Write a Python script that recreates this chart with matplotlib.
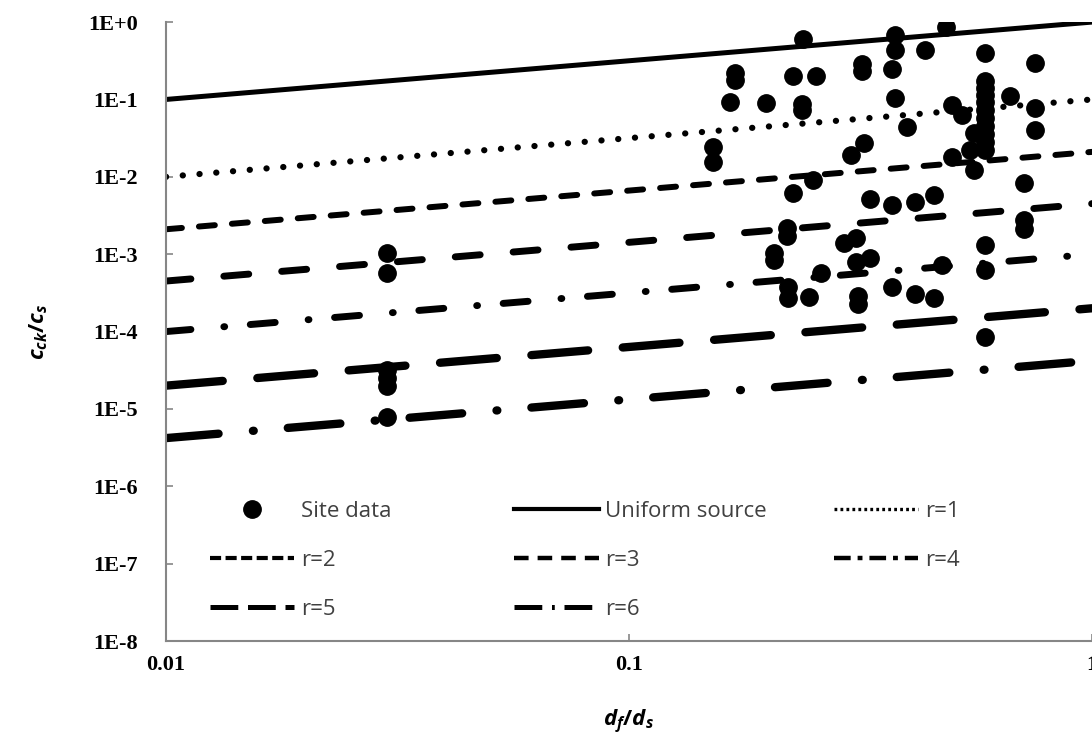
import matplotlib.pyplot as plt
from matplotlib.lines import Line2D
from matplotlib.ticker import NullLocator

plt.rcParams['lines.scale_dashes'] = False
plt.rcParams['mathtext.fontset'] = 'custom'
plt.rcParams['mathtext.it'] = 'Open Sans:italic:bold'
plt.rcParams['mathtext.rm'] = 'Open Sans:bold'
plt.rcParams['mathtext.default'] = 'it'

# site data (df/ds, cck/cs)
site_x = [0.030, 0.030, 0.030, 0.030, 0.030, 0.030,
          0.152, 0.152, 0.169, 0.169, 0.165, 0.198,
          0.226, 0.253, 0.236, 0.236, 0.238, 0.319, 0.319,
          0.302, 0.321, 0.250, 0.226, 0.331, 0.370,
          0.219, 0.219, 0.206, 0.206, 0.292, 0.310, 0.310, 0.331,
          0.260, 0.221, 0.221, 0.245, 0.313, 0.313, 0.370,
          0.375, 0.485, 0.375, 0.435, 0.370, 0.587, 0.753, 0.375,
          0.587, 0.587, 0.587, 0.587, 0.587, 0.587, 0.587, 0.587, 0.587, 0.587,
          0.555, 0.544, 0.555, 0.498, 0.398, 0.498, 0.523, 0.665,
          0.753, 0.753, 0.713, 0.414, 0.455, 0.713, 0.713,
          0.587, 0.474, 0.587, 0.414, 0.455, 0.587]
site_y = [1.04e-3, 5.7e-4, 3.2e-5, 2.5e-5, 2.0e-5, 7.9e-6,
          0.024, 0.0155, 0.22, 0.18, 0.093, 0.090,
          0.20, 0.20, 0.087, 0.073, 0.60, 0.29, 0.23,
          0.019, 0.027, 0.0091, 0.0062, 0.0052, 0.0043,
          0.0022, 0.0017, 1.04e-3, 8.4e-4, 1.4e-3, 1.6e-3, 7.9e-4, 8.9e-4,
          5.7e-4, 3.8e-4, 2.7e-4, 2.8e-4, 2.9e-4, 2.3e-4, 3.8e-4,
          0.68, 0.86, 0.435, 0.435, 0.25, 0.40, 0.295, 0.104,
          0.173, 0.140, 0.114, 0.093, 0.073, 0.0575, 0.0453, 0.0357, 0.0282, 0.0222,
          0.037, 0.022, 0.0122, 0.018, 0.044, 0.085, 0.063, 0.11,
          0.077, 0.040, 0.0083, 0.0047, 0.0058, 0.0028, 0.0021,
          1.3e-3, 7.2e-4, 6.2e-4, 3.1e-4, 2.7e-4, 8.5e-5]

# model curves, values at df/ds = 0.01 and 1
line_x = [0.01, 1.0]
uniform_y = [0.1, 1.0]
r1_y = [0.01, 0.1]
r2_y = [2.1e-3, 2.1e-2]
r3_y = [4.5e-4, 4.5e-3]
r4_y = [1.0e-4, 1.0e-3]
r5_y = [2.0e-5, 2.0e-4]
r6_y = [4.2e-6, 4.2e-5]

yticks = [1e-8, 1e-7, 1e-6, 1e-5, 1e-4, 1e-3, 1e-2, 1e-1, 1]
ytick_labels = ['1E-8', '1E-7', '1E-6', '1E-5', '1E-4', '1E-3', '1E-2', '1E-1', '1E+0']
xticks = [0.01, 0.1, 1]
xtick_labels = ['0.01', '0.1', '1']

fig = plt.figure(figsize=(10.92, 7.36), dpi=100)
fig.subplots_adjust(left=0.152, right=1.0, bottom=0.129, top=0.970)
ax = fig.add_subplot(111)

ax.plot(site_x, site_y, 'o', ms=12.5, color='black', zorder=3)
ax.plot(line_x, uniform_y, color='black', lw=3.6)
ax.plot(line_x, r1_y, color='black', lw=4.5, ls=(0, (0.1, 12.0)), dash_capstyle='round')
ax.plot(line_x, r2_y, color='black', lw=4.3, ls=(0, (11.5, 12.3)), dash_capstyle='round')
ax.plot(line_x, r3_y, color='black', lw=5.0, ls=(0, (18, 23.8)), dash_capstyle='round')
ax.plot(line_x, r4_y, color='black', lw=5.0, ls=(0, (18, 23.8, 0.6, 18.5)),
        dash_capstyle='round')
ax.plot(line_x, r5_y, color='black', lw=6.0, ls=(0, (41, 25)), dash_capstyle='round')
ax.plot(line_x, r6_y, color='black', lw=6.0, ls=(0, (38, 24.8, 0.6, 24.6)),
        dash_capstyle='round')

ax.set_xscale('log')
ax.set_yscale('log')
ax.set_xlim(0.01, 1)
ax.set_ylim(1e-8, 1)

ax.set_yticks(yticks, ytick_labels, fontfamily='Liberation Serif', fontweight='bold', fontsize=16)
ax.set_xticks(xticks, xtick_labels, fontfamily='Liberation Serif', fontweight='bold', fontsize=16)
ax.xaxis.set_minor_locator(NullLocator())
ax.yaxis.set_minor_locator(NullLocator())
ax.tick_params(axis='both', direction='in', length=5, width=1.2, color='#868686')
ax.tick_params(axis='y', pad=20)
ax.tick_params(axis='x', pad=10)

for side in ['top', 'right']:
    ax.spines[side].set_visible(False)
for side in ['left', 'bottom']:
    ax.spines[side].set_color('#868686')
    ax.spines[side].set_linewidth(1.5)

ax.set_xlabel(r'$d_f/d_s$', fontsize=16, labelpad=24)
ax.set_ylabel(r'$c_{ck}/c_s$', fontsize=16, labelpad=28)

# legend keys (drawn with the short patterns of the original legend)
def key(**kw):
    return Line2D([], [], color='black', **kw)

h_site = key(ls='none', marker='o', ms=12.5)
h_uni = key(lw=3.0)
h_r1 = key(lw=2.4, ls=(0, (2.0, 2.3)))
h_r2 = key(lw=3.0, ls=(0, (8.0, 3.2)))
h_r3 = key(lw=3.2, ls=(0, (10.5, 6.5)))
h_r4 = key(lw=3.2, ls=(0, (12.0, 5.0, 3.5, 5.0)))
h_r5 = key(lw=3.6, ls=(0, (20.0, 7.0)))
h_r6 = key(lw=3.6, ls=(0, (20.0, 7.0, 2.0, 7.0)))

legend_opts = dict(loc='upper left', frameon=False, handlelength=3.8,
                   handletextpad=0.3, labelspacing=1.25, borderpad=0, borderaxespad=0,
                   labelcolor='#404040', prop={'family': 'Open Sans', 'size': 16})
leg1 = ax.legend([h_site, h_r2, h_r5], ['Site data', 'r=2', 'r=5'],
                 bbox_to_anchor=(0.0475, 0.226), **legend_opts)
ax.add_artist(leg1)
leg2 = ax.legend([h_uni, h_r3, h_r6], ['Uniform source', 'r=3', 'r=6'],
                 bbox_to_anchor=(0.376, 0.226), **legend_opts)
ax.add_artist(leg2)
leg3 = ax.legend([h_r1, h_r4], ['r=1', 'r=4'],
                 bbox_to_anchor=(0.721, 0.226), **legend_opts)

fig.savefig('out.png', dpi=100)
